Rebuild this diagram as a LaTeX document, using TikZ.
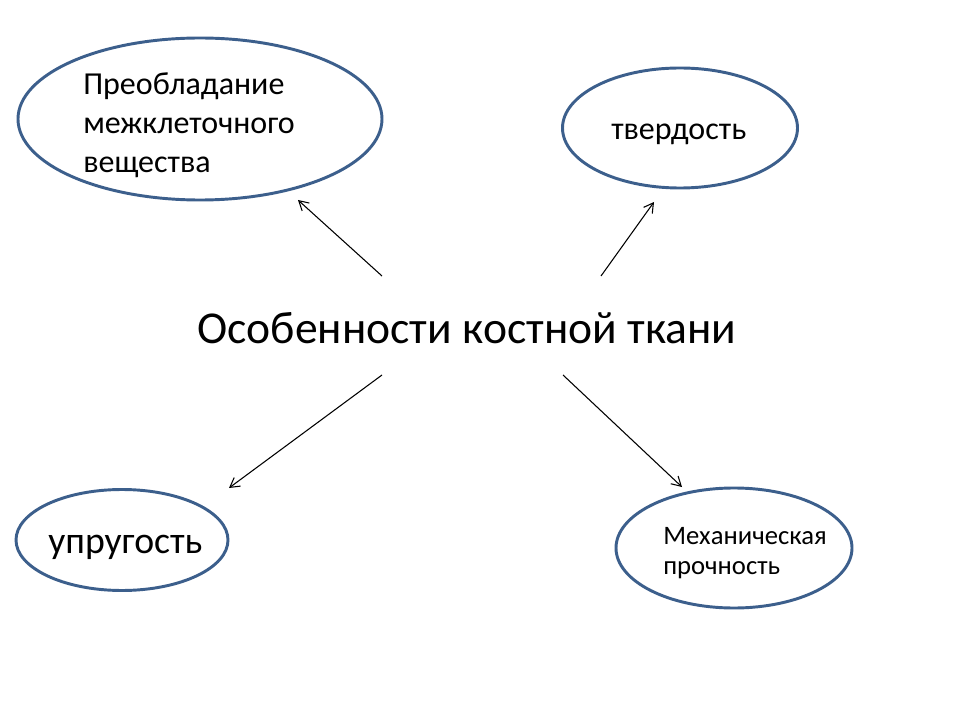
\documentclass[tikz,border=0pt]{standalone}
\usepackage{fontspec}
\setmainfont{Carlito}
\usetikzlibrary{shapes.geometric,arrows.meta}
\definecolor{rim}{RGB}{60,95,140}
\tikzset{
  bubble/.style={ellipse,draw=rim,line width=2.2pt,fill=white,inner sep=0pt},
  lbl/.style={inner sep=0pt,align=left,text=black},
  conn/.style={draw=black,line width=0.8pt,-{Straight Barb[length=7pt,width=8pt,line width=0.8pt]}}
}
\begin{document}
\begin{tikzpicture}[x=0.75pt,y=-0.75pt]
\useasboundingbox (0,0) rectangle (960,720);
\fill[white] (0,0) rectangle (960,720);
% ellipses
\node[bubble,minimum width=364*0.75pt,minimum height=162*0.75pt] (e1) at (200,119) {};
\node[bubble,minimum width=235*0.75pt,minimum height=120*0.75pt] (e2) at (680,128) {};
\node[bubble,minimum width=212*0.75pt,minimum height=101*0.75pt] (e3) at (122,540) {};
\node[bubble,minimum width=236*0.75pt,minimum height=120*0.75pt] (e4) at (734,548) {};
% texts
\node[lbl,anchor=base west,font=\fontsize{24pt}{29.3pt}\selectfont] (t1) at (83,173)
  {Преобладание\\межклеточного\\вещества};
\node[lbl,anchor=base west,font=\fontsize{24pt}{29pt}\selectfont] (t2) at (611,140) {твердость};
\node[lbl,anchor=base west,font=\fontsize{28.3pt}{32pt}\selectfont] (t3) at (48,553) {упругость};
\node[lbl,anchor=base west,font=\fontsize{20pt}{22pt}\selectfont] (t4) at (663,574)
  {Механическая\\прочность};
\node[lbl,anchor=base west,font=\fontsize{34.2pt}{41pt}\selectfont] (c) at (197,343) {Особенности костной ткани};
% connector end points
\coordinate (s1) at (382,276); \coordinate (f1) at (298,200);
\coordinate (s2) at (601,276); \coordinate (f2) at (654,202);
\coordinate (s3) at (382,375); \coordinate (f3) at (229,488);
\coordinate (s4) at (563,375); \coordinate (f4) at (682,487);
\draw[conn] (s1) -- (f1);
\draw[conn] (s2) -- (f2);
\draw[conn] (s3) -- (f3);
\draw[conn] (s4) -- (f4);
\end{tikzpicture}
\end{document}
